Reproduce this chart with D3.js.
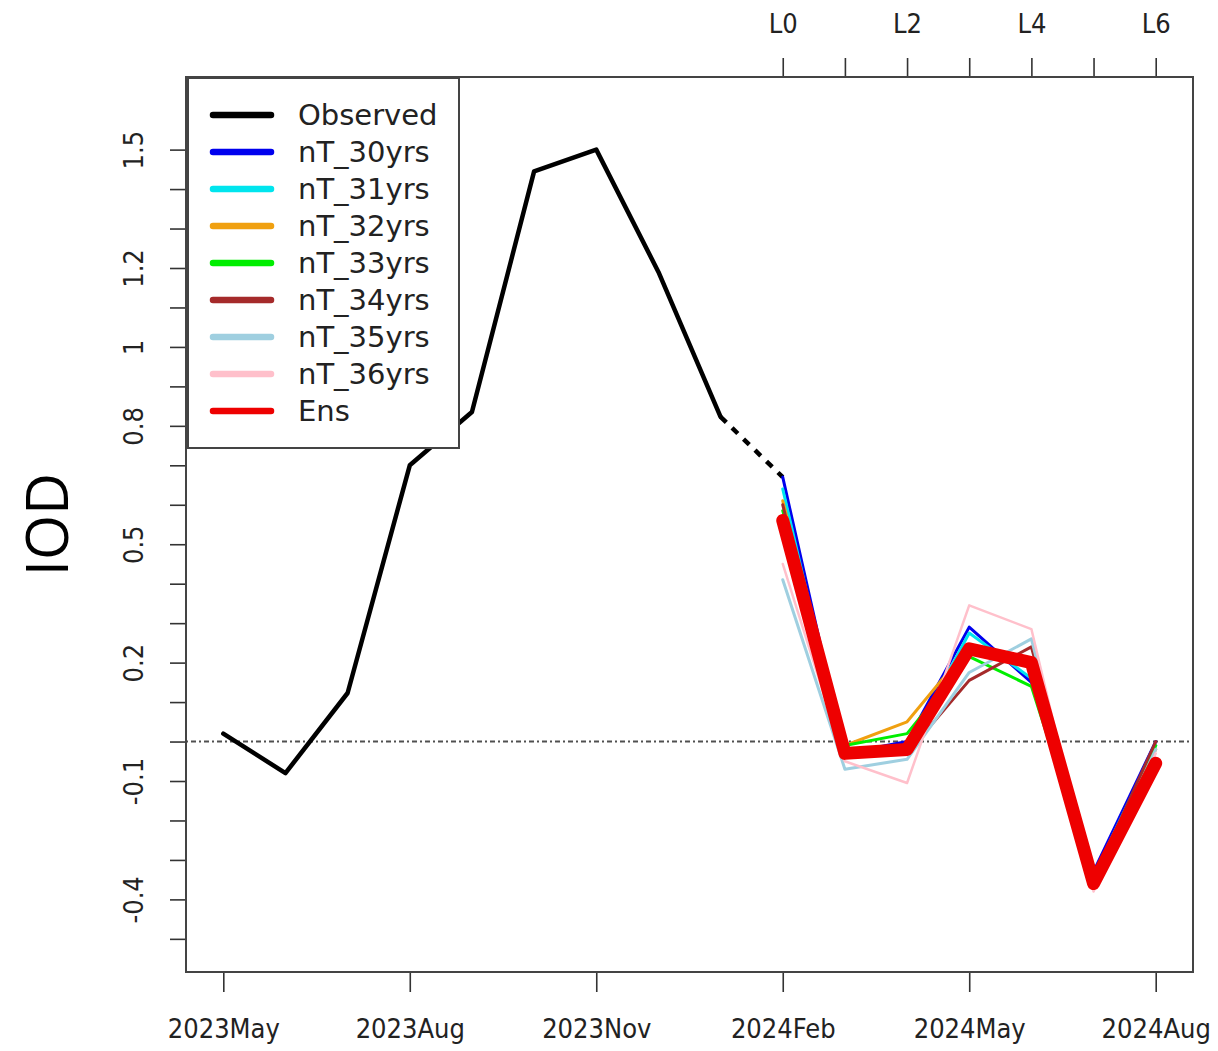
<!DOCTYPE html>
<html>
<head>
<meta charset="utf-8">
<script src="https://cdn.jsdelivr.net/npm/d3@7"></script>
<style>
  body { margin: 0; background: #fff; }
  .tick text { font-family: "DejaVu Sans Condensed", "DejaVu Sans", sans-serif; font-stretch: condensed; }
</style>
</head>
<body>
<svg id="chart" width="1218" height="1051"></svg>
<script>
// Monthly time axis
const months = ["2023May","2023Jun","2023Jul","2023Aug","2023Sep","2023Oct","2023Nov","2023Dec",
                "2024Jan","2024Feb","2024Mar","2024Apr","2024May","2024Jun","2024Jul","2024Aug"];
const bottomTicks = ["2023May","2023Aug","2023Nov","2024Feb","2024May","2024Aug"];
const leadMonths = ["2024Feb","2024Mar","2024Apr","2024May","2024Jun","2024Jul","2024Aug"];
const leadLabels = ["L0","","L2","","L4","","L6"];

// Y axis: tick every 0.1, only some labelled
const yLim = [-0.5, 1.6];
const yTicks = [-0.5,-0.4,-0.3,-0.2,-0.1,0,0.1,0.2,0.3,0.4,0.5,0.6,0.7,0.8,0.9,1.0,1.1,1.2,1.3,1.4,1.5];
const yLabels = ["-0.4","-0.1","0.2","0.5","0.8","1","1.2","1.5"];

// Observed IOD, 2023May .. 2024Jan
const obsMonths = ["2023May","2023Jun","2023Jul","2023Aug","2023Sep","2023Oct","2023Nov","2023Dec","2024Jan"];
const observed = [0.02, -0.08, 0.123, 0.70, 0.835, 1.445, 1.50, 1.19, 0.823];
// dashed link from last observation to the lead-0 start
const linkMonths = ["2024Jan","2024Feb"];
const linkValues = [0.823, 0.67];

// Forecasts, lead 0..6 (2024Feb .. 2024Aug)
const nT_30yrs = [0.67, -0.03,  0.00, 0.29,  0.15, -0.33,  0.00];
const nT_31yrs = [0.64, -0.04, -0.02, 0.275, 0.16, -0.34, -0.01];
const nT_32yrs = [0.61, -0.01,  0.05, 0.24,  0.19, -0.35, -0.02];
const nT_33yrs = [0.585,-0.01,  0.02, 0.215, 0.14, -0.35, -0.01];
const nT_34yrs = [0.60, -0.04, -0.03, 0.155, 0.24, -0.35,  0.00];
const nT_35yrs = [0.41, -0.07, -0.045,0.175, 0.26, -0.36, -0.02];
const nT_36yrs = [0.45, -0.05, -0.105,0.345, 0.285,-0.38, -0.03];
const ens      = [0.56, -0.03, -0.02, 0.235, 0.20, -0.36, -0.055];

const seriesNames = ["nT_30yrs","nT_31yrs","nT_32yrs","nT_33yrs","nT_34yrs","nT_35yrs","nT_36yrs"];
const seriesValues = [nT_30yrs, nT_31yrs, nT_32yrs, nT_33yrs, nT_34yrs, nT_35yrs, nT_36yrs];
const seriesColors = ["#0000ee","#00e5ee","#f0a010","#00ee00","#a52a2a","#9fcfe0","#ffc0cb"];

const legendNames = ["Observed"].concat(seriesNames, ["Ens"]);
const legendColors = ["#000000"].concat(seriesColors, ["#ee0000"]);

// ---- layout ----
const plot = { left: 186, right: 1193, top: 77, bottom: 972 };
const svg = d3.select("#chart");

const xPad = 0.04 * (months.length - 1);
const x = d3.scaleLinear()
  .domain([-xPad, months.length - 1 + xPad])
  .range([plot.left, plot.right]);
const xm = m => x(months.indexOf(m));

const ySpan = yLim[1] - yLim[0];
const y = d3.scaleLinear()
  .domain([yLim[0] - 0.04 * ySpan, yLim[1] + 0.04 * ySpan])
  .range([plot.bottom, plot.top]);

const axisColor = "#333";

// zero reference line (dot-dash)
svg.append("line")
  .attr("x1", plot.left).attr("x2", plot.right)
  .attr("y1", y(0)).attr("y2", y(0))
  .attr("stroke", "#505050").attr("stroke-width", 2)
  .attr("stroke-dasharray", "2 3 5 3");

const line = d3.line().x(d => xm(d[0])).y(d => y(d[1]));

// observed series
svg.append("path")
  .attr("d", line(obsMonths.map((m, i) => [m, observed[i]])))
  .attr("fill", "none").attr("stroke", "#000").attr("stroke-width", 4.5)
  .attr("stroke-linejoin", "round").attr("stroke-linecap", "round");
svg.append("path")
  .attr("d", line(linkMonths.map((m, i) => [m, linkValues[i]])))
  .attr("fill", "none").attr("stroke", "#000").attr("stroke-width", 4.5)
  .attr("stroke-dasharray", "8 8");

// member forecasts
seriesValues.forEach((vals, k) => {
  svg.append("path")
    .attr("d", line(leadMonths.map((m, i) => [m, vals[i]])))
    .attr("fill", "none").attr("stroke", seriesColors[k])
    .attr("stroke-width", k === 6 ? 2.5 : 3)
    .attr("stroke-linejoin", "round").attr("stroke-linecap", "round");
});

// ensemble
svg.append("path")
  .attr("d", line(leadMonths.map((m, i) => [m, ens[i]])))
  .attr("fill", "none").attr("stroke", "#ee0000").attr("stroke-width", 13)
  .attr("stroke-linejoin", "round").attr("stroke-linecap", "round");

// ---- axes ----
const fontAxis = 27;
const fmtY = v => String(+v.toFixed(2));

const gLeft = svg.append("g").attr("transform", `translate(${plot.left},0)`)
  .call(d3.axisLeft(y).tickValues(yTicks).tickSize(16).tickSizeOuter(0)
    .tickFormat(v => yLabels.includes(fmtY(v)) ? fmtY(v) : ""));
gLeft.select(".domain").remove();
gLeft.append("line").attr("x1", 0).attr("x2", 0)
  .attr("y1", y(yTicks[0])).attr("y2", y(yTicks[yTicks.length - 1]))
  .attr("stroke", axisColor).attr("stroke-width", 1.6);
gLeft.selectAll(".tick line").attr("stroke", axisColor).attr("stroke-width", 1.6);
gLeft.selectAll(".tick text")
  .attr("x", null).attr("dy", null)
  .attr("transform", "translate(-43,0) rotate(-90)")
  .attr("text-anchor", "middle")
  .attr("fill", "#222").attr("font-size", fontAxis);

const gBottom = svg.append("g").attr("transform", `translate(0,${plot.bottom})`)
  .call(d3.axisBottom(x).tickValues(bottomTicks.map(m => months.indexOf(m)))
    .tickSize(20).tickSizeOuter(0).tickFormat(i => months[i]));
gBottom.select(".domain").remove();
gBottom.append("line")
  .attr("x1", xm(bottomTicks[0])).attr("x2", xm(bottomTicks[bottomTicks.length - 1]))
  .attr("stroke", axisColor).attr("stroke-width", 1.6);
gBottom.selectAll(".tick line").attr("stroke", axisColor).attr("stroke-width", 1.6);
gBottom.selectAll(".tick text")
  .attr("y", 66).attr("dy", null)
  .attr("fill", "#222").attr("font-size", fontAxis);

const gTop = svg.append("g").attr("transform", `translate(0,${plot.top})`)
  .call(d3.axisTop(x).tickValues(leadMonths.map(m => months.indexOf(m)))
    .tickSize(19).tickSizeOuter(0)
    .tickFormat(i => leadLabels[leadMonths.indexOf(months[i])]));
gTop.select(".domain").remove();
gTop.append("line")
  .attr("x1", xm(leadMonths[0])).attr("x2", xm(leadMonths[leadMonths.length - 1]))
  .attr("stroke", axisColor).attr("stroke-width", 1.6);
gTop.selectAll(".tick line").attr("stroke", axisColor).attr("stroke-width", 1.6);
gTop.selectAll(".tick text")
  .attr("y", -44).attr("dy", null)
  .attr("fill", "#222").attr("font-size", fontAxis);

// plot frame
svg.append("rect")
  .attr("x", plot.left).attr("y", plot.top)
  .attr("width", plot.right - plot.left).attr("height", plot.bottom - plot.top)
  .attr("fill", "none").attr("stroke", "#444").attr("stroke-width", 2);

// y title
svg.append("text")
  .attr("transform", `translate(68,${(plot.top + plot.bottom) / 2}) rotate(-90)`)
  .attr("text-anchor", "middle")
  .attr("font-family", "'Open Sans', sans-serif")
  .attr("font-size", 58)
  .attr("fill", "#000")
  .text("IOD");

// ---- legend ----
const leg = svg.append("g");
leg.append("rect")
  .attr("x", 188).attr("y", 78).attr("width", 271).attr("height", 370)
  .attr("fill", "#fff").attr("stroke", "#444").attr("stroke-width", 2);
legendNames.forEach((name, i) => {
  const cy = 115 + i * 37;
  leg.append("line")
    .attr("x1", 213).attr("x2", 271).attr("y1", cy).attr("y2", cy)
    .attr("stroke", legendColors[i]).attr("stroke-width", 6.5)
    .attr("stroke-linecap", "round");
  leg.append("text")
    .attr("x", 298).attr("y", cy).attr("dy", "0.36em")
    .attr("font-family", "'DejaVu Sans', sans-serif")
    .attr("font-size", 29)
    .attr("fill", "#222")
    .text(name);
});
</script>
</body>
</html>
